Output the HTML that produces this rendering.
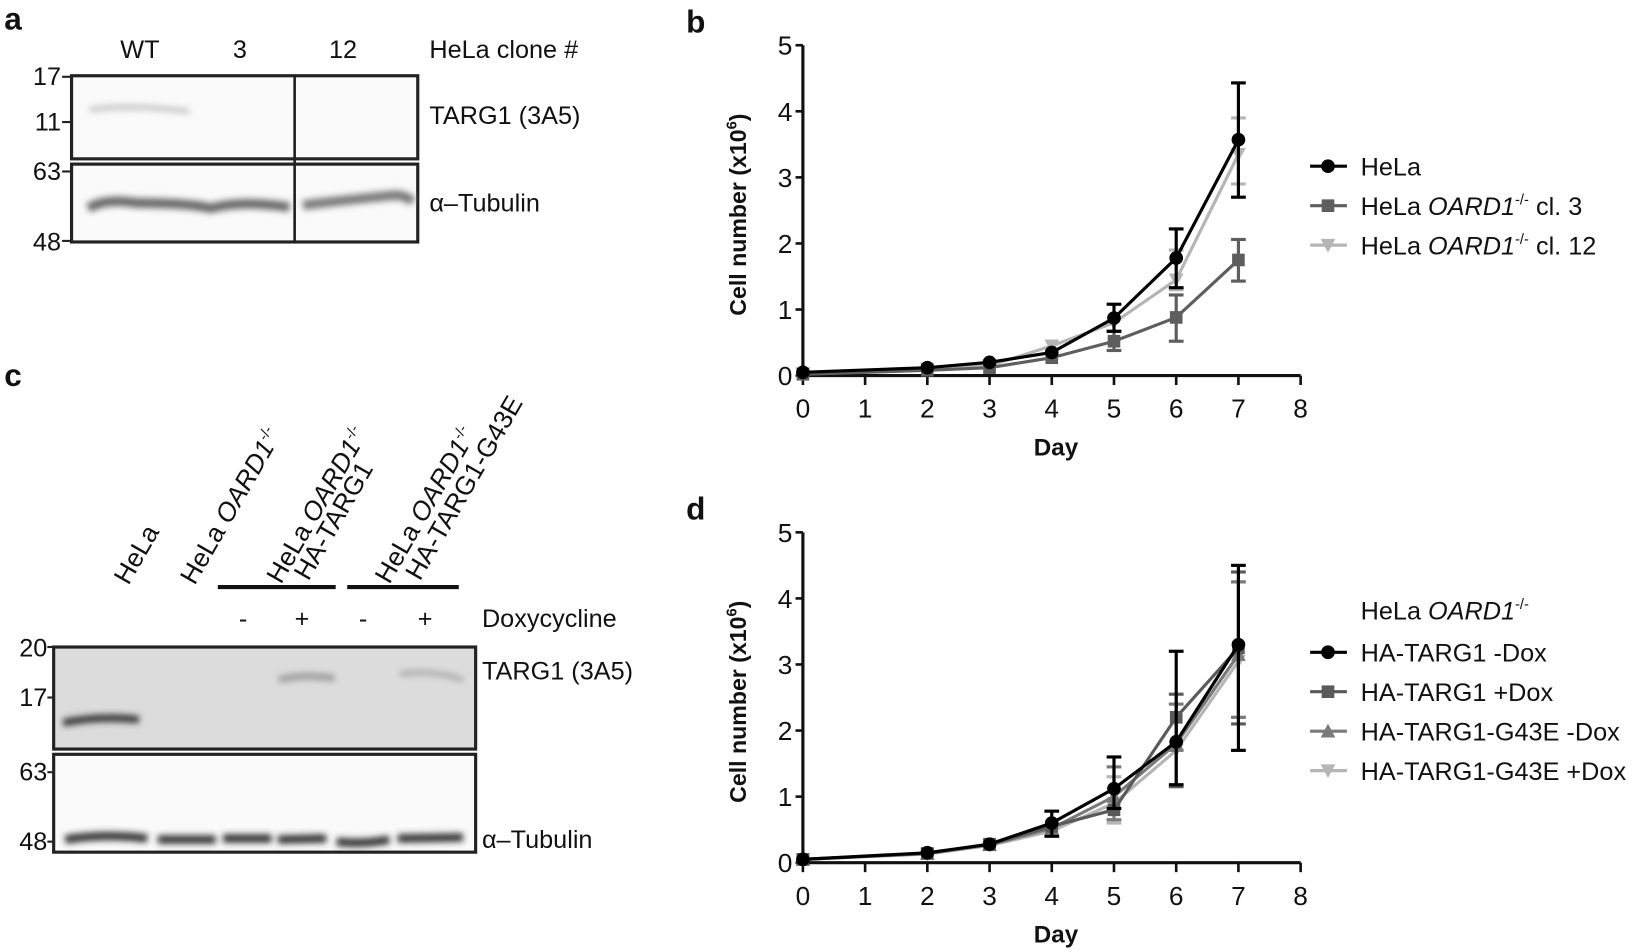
<!DOCTYPE html>
<html><head><meta charset="utf-8"><style>
html,body{margin:0;padding:0;background:#fff;}
svg{display:block;}
text{font-family:"Liberation Sans Narrow","Liberation Sans",sans-serif;fill:#111;}
.b{font-family:"Liberation Sans",sans-serif;font-weight:bold;}
</style></head><body>
<svg id="s" width="1650" height="950" viewBox="0 0 1568 903" preserveAspectRatio="none" xmlns="http://www.w3.org/2000/svg">
<defs>
<filter id="bl" x="-20%" y="-300%" width="140%" height="700%"><feGaussianBlur stdDeviation="3"/></filter>
</defs>
<!-- Panel a -->
<text class="b" x="4" y="28" font-size="30">a</text>
<g font-size="24">
<text x="133" y="55" text-anchor="middle">WT</text>
<text x="228" y="55" text-anchor="middle">3</text>
<text x="326" y="55" text-anchor="middle">12</text>
<text x="408" y="55">HeLa clone #</text>
<text x="408" y="118">TARG1 (3A5)</text>
<text x="408" y="201">α–Tubulin</text>
<text x="58" y="81" text-anchor="end">17</text>
<text x="58" y="124" text-anchor="end">11</text>
<text x="58" y="171" text-anchor="end">63</text>
<text x="58" y="238" text-anchor="end">48</text>
</g>
<g stroke="#222" stroke-width="2">
<line x1="59" y1="73" x2="68" y2="73"/><line x1="59" y1="116" x2="68" y2="116"/>
<line x1="59" y1="163" x2="68" y2="163"/><line x1="59" y1="229" x2="68" y2="229"/>
</g>
<rect x="68" y="72" width="329" height="79" fill="#fafafa" stroke="#222" stroke-width="3"/>
<rect x="68" y="156" width="329" height="74" fill="#fafafa" stroke="#222" stroke-width="3"/>
<path d="M85 104 Q130 99 180 106" stroke="#c4c4c4" stroke-width="5" fill="none" filter="url(#bl)"/>
<path d="M84 198 Q100 188 130 193 Q180 193 200 198 Q230 190 275 197" stroke="#666" stroke-width="9" fill="none" filter="url(#bl)"/>
<path d="M288 195 Q330 190 370 186 Q385 184 392 192" stroke="#777" stroke-width="9" fill="none" filter="url(#bl)"/>
<line x1="280" y1="72" x2="280" y2="230" stroke="#222" stroke-width="2.5"/>

<!-- Panel c -->
<text class="b" x="4" y="367" font-size="30">c</text>
<g font-size="25">
<text transform="translate(122,557) rotate(-60)">HeLa</text>
<text transform="translate(185,557) rotate(-60)">HeLa <tspan font-style="italic">OARD1</tspan><tspan font-size="14" dy="-10">-/-</tspan></text>
<text transform="translate(267,556) rotate(-60)">HeLa <tspan font-style="italic">OARD1</tspan><tspan font-size="14" dy="-10">-/-</tspan></text>
<text transform="translate(293,553) rotate(-60)">HA-TARG1</text>
<text transform="translate(370,556) rotate(-60)">HeLa <tspan font-style="italic">OARD1</tspan><tspan font-size="14" dy="-10">-/-</tspan></text>
<text transform="translate(399,553) rotate(-60)">HA-TARG1-G43E</text>
</g>
<g font-size="24">
<text x="231" y="596" text-anchor="middle">-</text>
<text x="287" y="596" text-anchor="middle">+</text>
<text x="345" y="596" text-anchor="middle">-</text>
<text x="404" y="596" text-anchor="middle">+</text>
<text x="458" y="596">Doxycycline</text>
<text x="458" y="646">TARG1 (3A5)</text>
<text x="458" y="806">α–Tubulin</text>
<text x="45" y="624" text-anchor="end">20</text>
<text x="45" y="671" text-anchor="end">17</text>
<text x="45" y="742" text-anchor="end">63</text>
<text x="45" y="808" text-anchor="end">48</text>
</g>
<g stroke="#222" stroke-width="2">
<line x1="45" y1="615" x2="51" y2="615"/><line x1="45" y1="663" x2="51" y2="663"/>
<line x1="45" y1="734" x2="51" y2="734"/><line x1="45" y1="800" x2="51" y2="800"/>
</g>
<line x1="207" y1="558" x2="319" y2="558" stroke="#111" stroke-width="4"/>
<line x1="330" y1="558" x2="436" y2="558" stroke="#111" stroke-width="4"/>
<rect x="51" y="615" width="401" height="97" fill="#dcdcdc" stroke="#222" stroke-width="3"/>
<rect x="51" y="717" width="401" height="93" fill="#fafafa" stroke="#222" stroke-width="3"/>
<path d="M60 687 Q95 680 132 684" stroke="#333" stroke-width="7" fill="none" filter="url(#bl)"/>
<path d="M265 646 Q290 640 318 645" stroke="#999" stroke-width="6" fill="none" filter="url(#bl)"/>
<path d="M380 641 Q410 636 440 646" stroke="#aaa" stroke-width="5" fill="none" filter="url(#bl)"/>
<g stroke="#333" stroke-width="8" fill="none" filter="url(#bl)">
<path d="M62 798 Q100 792 140 797"/><path d="M150 798 L205 798"/><path d="M212 797 L258 797"/>
<path d="M264 798 L310 797"/><path d="M320 800 Q345 803 370 798"/><path d="M378 797 L440 796"/>
</g>
</svg>
<script>
const S=document.getElementById('s');let h='';
function chart(top,label,series,ly,title){
 const x0=763,x1=1236,y5=top,y0=top+314;
 const X=d=>x0+(x1-x0)*d/8,Y=v=>y0-(y0-y5)*v/5;
 h+=`<line x1="${x0}" y1="${y5}" x2="${x0}" y2="${y0}" stroke="#111" stroke-width="3"/>`;
 h+=`<line x1="${x0}" y1="${y0}" x2="${x1}" y2="${y0}" stroke="#111" stroke-width="3"/>`;
 for(let i=0;i<=5;i++){h+=`<line x1="${x0-7}" y1="${Y(i)}" x2="${x0}" y2="${Y(i)}" stroke="#111" stroke-width="2.5"/><text x="${x0-10}" y="${Y(i)+9}" font-size="25" text-anchor="end">${i}</text>`;}
 for(let i=0;i<=8;i++){h+=`<line x1="${X(i)}" y1="${y0}" x2="${X(i)}" y2="${y0+9}" stroke="#111" stroke-width="2.5"/><text x="${X(i)}" y="${y0+40}" font-size="25" text-anchor="middle">${i}</text>`;}
 h+=`<text class="b" x="${(x0+x1)/2+4}" y="${y0+76}" font-size="23" text-anchor="middle">Day</text>`;
 h+=`<text class="b" transform="translate(709,${(y5+y0)/2+4}) rotate(-90)" font-size="22" text-anchor="middle">Cell number (x10<tspan font-size="14" dy="-9">6</tspan><tspan dy="9">)</tspan></text>`;
 h+=`<text class="b" x="652" y="${top-12}" font-size="30">${label}</text>`;
 const days=[0,2,3,4,5,6,7];
 const mk=(m,x,y,c)=>m=='o'?`<circle cx="${x}" cy="${y}" r="6.5" fill="${c}"/>`:m=='s'?`<rect x="${x-6}" y="${y-6}" width="12" height="12" fill="${c}"/>`:m=='t'?`<path d="M${x-7} ${y+6}L${x+7} ${y+6}L${x} ${y-7}Z" fill="${c}"/>`:`<path d="M${x-7} ${y-6}L${x+7} ${y-6}L${x} ${y+7}Z" fill="${c}"/>`;
 series.slice().reverse().forEach(s=>{
  s.err.forEach(e=>{const x=X(e[0]);h+=`<line x1="${x}" y1="${Y(e[1])}" x2="${x}" y2="${Y(e[2])}" stroke="${s.c}" stroke-width="3"/><line x1="${x-7}" y1="${Y(e[1])}" x2="${x+7}" y2="${Y(e[1])}" stroke="${s.c}" stroke-width="3"/><line x1="${x-7}" y1="${Y(e[2])}" x2="${x+7}" y2="${Y(e[2])}" stroke="${s.c}" stroke-width="3"/>`;});
  h+=`<polyline points="${days.map((d,i)=>X(d)+','+Y(s.v[i])).join(' ')}" fill="none" stroke="${s.c}" stroke-width="3"/>`;
  days.forEach((d,i)=>h+=mk(s.m,X(d),Y(s.v[i]),s.c));
 });
 if(title)h+=`<text x="1293" y="${ly-31}" font-size="24">HeLa  <tspan font-style="italic">OARD1</tspan><tspan font-size="14" dy="-10">-/-</tspan></text>`;
 series.forEach((s,i)=>{const y=ly+i*37.5;h+=`<line x1="1245" y1="${y}" x2="1280" y2="${y}" stroke="${s.c}" stroke-width="3"/>`+mk(s.m,1262,y,s.c)+`<text x="1293" y="${y+9}" font-size="24">${s.n}</text>`;});
}
const it=(b)=>`HeLa <tspan font-style="italic">OARD1</tspan><tspan font-size="14" dy="-10">-/-</tspan><tspan dy="10"> cl. ${b}</tspan>`;
chart(43,'b',[
 {n:'HeLa',c:'#000',m:'o',v:[0.05,0.12,0.2,0.35,0.87,1.78,3.57],err:[[5,0.67,1.08],[6,1.33,2.22],[7,2.7,4.43]]},
 {n:it(3),c:'#5e5e5e',m:'s',v:[0.02,0.08,0.12,0.27,0.52,0.88,1.75],err:[[5,0.38,0.67],[6,0.52,1.22],[7,1.43,2.06]]},
 {n:it(12),c:'#b5b5b5',m:'v',v:[0.03,0.1,0.15,0.45,0.8,1.45,3.35],err:[[6,1.3,1.9],[7,2.9,3.9]]}
],158,false);
chart(506,'d',[
 {n:'HA-TARG1 -Dox',c:'#000',m:'o',v:[0.05,0.15,0.28,0.6,1.12,1.83,3.3],err:[[4,0.4,0.78],[5,0.82,1.6],[6,1.18,3.2],[7,1.7,4.5]]},
 {n:'HA-TARG1 +Dox',c:'#5a5a5a',m:'s',v:[0.05,0.14,0.28,0.55,0.8,2.2,3.25],err:[[6,1.15,2.55],[7,2.1,4.4]]},
 {n:'HA-TARG1-G43E -Dox',c:'#7a7a7a',m:'t',v:[0.05,0.14,0.27,0.52,1.0,1.8,3.15],err:[[5,0.65,1.45],[6,1.7,2.4],[7,2.2,4.25]]},
 {n:'HA-TARG1-G43E +Dox',c:'#b5b5b5',m:'v',v:[0.05,0.13,0.26,0.48,0.9,1.7,3.05],err:[[5,0.6,1.3],[7,2.2,4.25]]}
],620,true);
S.insertAdjacentHTML('beforeend',h);
</script>
</body></html>
